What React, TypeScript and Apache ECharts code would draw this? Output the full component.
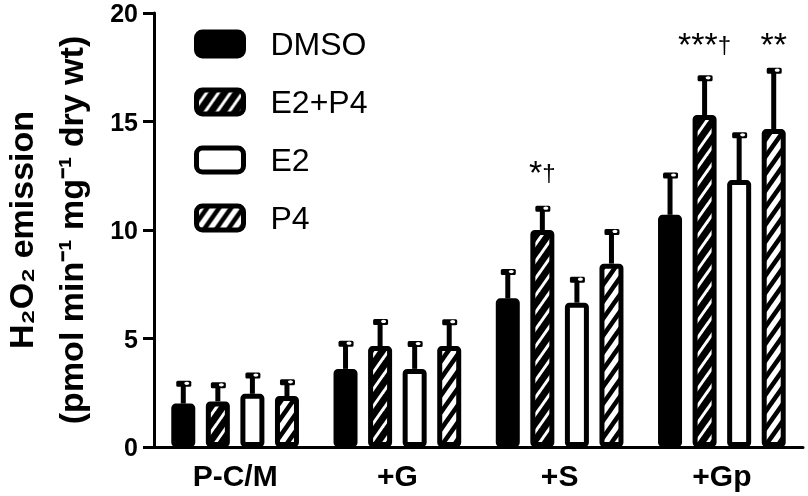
import React, { useEffect, useRef } from 'react';
import * as echarts from 'echarts';

const categories = ['P-C/M', '+G', '+S', '+Gp'];
const seriesNames = ['DMSO', 'E2+P4', 'E2', 'P4'];

const dmsoValues = [2.0, 3.6, 6.85, 10.7];
const dmsoErrors = [1.05, 1.3, 1.35, 1.95];
const e2p4Values = [2.1, 4.65, 10.0, 15.3];
const e2p4Errors = [0.88, 1.25, 1.12, 1.83];
const e2Values = [2.45, 3.6, 6.65, 12.3];
const e2Errors = [0.98, 1.28, 1.2, 2.2];
const p4Values = [2.35, 4.65, 8.45, 14.65];
const p4Errors = [0.77, 1.24, 1.6, 2.83];

const yMin = 0;
const yMax = 20;
const yInterval = 5;

// significance marks: category index, series index, stars, dagger, anchor value
const annotationCats = [2, 3, 3];
const annotationSeries = [1, 1, 3];
const annotationStars = ['*', '***', '**'];
const annotationDaggers = ['†', '†', ''];
const annotationY = [12.65, 18.55, 18.55];

const FONT = 'Liberation Sans, Arial, Helvetica, sans-serif';
const BAR_WIDTH = 24;
const BAR_GAP = 0.44;

function barOffset(s: number) {
  const pitch = BAR_WIDTH * (1 + BAR_GAP);
  return (s - (seriesNames.length - 1) / 2) * pitch;
}

function stripePattern(bg: string, fg: string, lw: number) {
  const w = 12;
  const h = 17;
  const cv = document.createElement('canvas');
  cv.width = w;
  cv.height = h;
  const ctx = cv.getContext('2d')!;
  ctx.fillStyle = bg;
  ctx.fillRect(0, 0, w, h);
  ctx.strokeStyle = fg;
  ctx.lineWidth = lw;
  for (const k of [-1, 0, 1]) {
    ctx.beginPath();
    ctx.moveTo(-w, (2 + k) * h);
    ctx.lineTo(2 * w, (k - 1) * h);
    ctx.stroke();
  }
  return { image: cv, repeat: 'repeat' } as any;
}

export default function App() {
  const ref = useRef<HTMLDivElement>(null);
  useEffect(() => {
    if (!ref.current) return;
    const chart = echarts.init(ref.current, undefined, { renderer: 'svg' });

    const values = [dmsoValues, e2p4Values, e2Values, p4Values];
    const errors = [dmsoErrors, e2p4Errors, e2Errors, p4Errors];
    const fills: any[] = [
      '#000',
      stripePattern('#000', '#fff', 3),
      '#fff',
      stripePattern('#fff', '#000', 4.5),
    ];

    const errData: number[][] = [];
    values.forEach((vals, s) => {
      vals.forEach((v, c) => errData.push([c, v, errors[s][c], s]));
    });
    const annData = annotationCats.map((c, i) => [c, annotationY[i], annotationSeries[i]]);

    const barSeries = seriesNames.map((name, s) => ({
      name,
      type: 'bar',
      data: values[s],
      barWidth: BAR_WIDTH,
      barGap: BAR_GAP * 100 + '%',
      z: 3,
      itemStyle: {
        color: fills[s],
        borderColor: '#000',
        borderWidth: 5,
        borderRadius: 2,
      },
    }));

    const option: any = {
      animation: false,
      grid: { left: 154, right: 5, top: 13, bottom: 49, containLabel: false },
      legend: {
        data: seriesNames,
        orient: 'vertical',
        left: 194,
        top: 28,
        padding: 0,
        itemWidth: 47,
        itemHeight: 24,
        itemGap: 26,
        selectedMode: false,
        itemStyle: { borderWidth: 5, borderColor: '#000' },
        textStyle: { fontFamily: FONT, fontSize: 32, color: '#000', padding: [0, 0, 0, 22] },
      },
      xAxis: {
        type: 'category',
        data: categories,
        axisLine: { lineStyle: { color: '#000', width: 3 } },
        axisTick: { alignWithLabel: true, length: 9, lineStyle: { color: '#000', width: 3 } },
        axisLabel: { fontFamily: FONT, fontSize: 30, fontWeight: 'bold', color: '#000', margin: 13 },
      },
      yAxis: {
        type: 'value',
        min: yMin,
        max: yMax,
        interval: yInterval,
        splitLine: { show: false },
        axisLine: { show: true, lineStyle: { color: '#000', width: 3 } },
        axisTick: { show: true, length: 11, lineStyle: { color: '#000', width: 3 } },
        axisLabel: {
          fontFamily: FONT,
          fontSize: 25,
          lineHeight: 22,
          padding: [4, 0, 0, 0],
          fontWeight: 'bold',
          color: '#000',
          margin: 16,
        },
      },
      graphic: [
        {
          type: 'text',
          x: 46,
          y: 230,
          rotation: Math.PI / 2,
          style: {
            text: 'H₂O₂ emission\n(pmol min⁻¹ mg⁻¹ dry wt)',
            fontFamily: FONT,
            fontSize: 34,
            fontWeight: 'bold',
            lineHeight: 50,
            fill: '#000',
            align: 'center',
            verticalAlign: 'middle',
          },
        },
      ],
      series: [
        {
          name: 'errors',
          type: 'custom',
          z: 1,
          data: errData,
          encode: { x: 0, y: 1 },
          renderItem: (params: any, api: any) => {
            const c = api.value(0);
            const v = api.value(1);
            const e = api.value(2);
            const s = api.value(3);
            const base = api.coord([c, v]);
            const top = api.coord([c, v + e]);
            const x = base[0] + barOffset(s);
            return {
              type: 'group',
              children: [
                { type: 'line', shape: { x1: x, y1: base[1], x2: x, y2: top[1] + 2 }, style: { stroke: '#000', lineWidth: 5 } },
                { type: 'rect', shape: { x: x - 7, y: top[1], width: 15, height: 6, r: 1.5 }, style: { fill: '#000' } },
                { type: 'ellipse', shape: { cx: x + 3.5, cy: top[1] + 2.5, rx: 2.5, ry: 1.6 }, style: { fill: '#fff' } },
              ],
            };
          },
        },
        ...barSeries,
        {
          name: 'annotations',
          type: 'custom',
          z: 4,
          data: annData,
          encode: { x: 0, y: 1 },
          renderItem: (params: any, api: any) => {
            const i = params.dataIndex;
            const c = api.value(0);
            const y = api.value(1);
            const s = api.value(2);
            const p = api.coord([c, y]);
            const dag = annotationDaggers[i];
            return {
              type: 'text',
              x: p[0] + barOffset(s),
              y: p[1],
              style: {
                text: '{a|' + annotationStars[i] + '}' + (dag ? '{b|' + dag + '}' : ''),
                align: 'center',
                verticalAlign: 'middle',
                rich: {
                  a: { fontFamily: FONT, fontSize: 34, lineHeight: 38, verticalAlign: 'middle', fill: '#000' },
                  b: { fontFamily: FONT, fontSize: 24, lineHeight: 24, verticalAlign: 'middle', fill: '#000' },
                },
              },
            };
          },
        },
      ],
    };
    chart.setOption(option);
    return () => chart.dispose();
  }, []);
  return <div ref={ref} style={{ position: 'fixed', left: 0, top: 0, width: 808, height: 496 }} />;
}
